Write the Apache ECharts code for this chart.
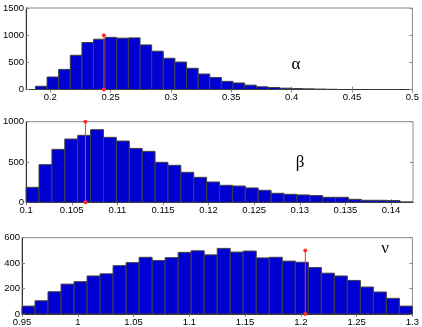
<!DOCTYPE html>
<html>
<head>
<meta charset="utf-8">
<script src="https://cdn.jsdelivr.net/npm/echarts@6/dist/echarts.min.js"></script>
<style>
  html, body { margin: 0; padding: 0; background: #fff; }
  #chart { width: 422px; height: 327px; }
</style>
</head>
<body>
<div id="chart"></div>
<script>
// alpha
const alphaStart = 0.1877, alphaWidth = 0.00963;
const alphaCounts = [60, 230, 370, 630, 865, 925, 960, 945, 950, 820, 705, 575, 505, 390, 285,
                     222, 150, 120, 80, 50, 37, 25, 18, 12, 8, 4];
const alphaMark = 0.2444;
const alphaTicks = [0.2, 0.25, 0.3, 0.35, 0.4, 0.45, 0.5];

// beta
const betaStart = 0.1, betaWidth = 0.001413;
const betaCounts = [186, 467, 657, 785, 831, 901, 806, 760, 669, 632, 496, 459, 372, 310, 252,
                    211, 202, 178, 149, 112, 99, 91, 83, 62, 62, 37, 25, 25, 21, 4];
const betaMark = 0.1065;
const betaTicks = [0.1, 0.105, 0.11, 0.115, 0.12, 0.125, 0.13, 0.135, 0.14];

// nu
const nuStart = 0.95, nuWidth = 0.011667;
const nuCounts = [62, 104, 175, 235, 254, 299, 316, 380, 404, 446, 421, 443, 485, 497, 465,
                  516, 487, 495, 441, 446, 416, 407, 365, 321, 299, 264, 212, 173, 123, 62];
const nuMark = 1.204;
const nuTicks = [0.95, 1, 1.05, 1.1, 1.15, 1.2, 1.25, 1.3];

const panels = [
  { start: alphaStart, width: alphaWidth, counts: alphaCounts, mark: alphaMark, markTop: 1000,
    ticks: alphaTicks, xmin: 0.18, xmax: 0.5, ymax: 1500, yint: 500, top: 8, h: 81.5,
    label: 'α', lx: 296, ly: 65 },
  { start: betaStart, width: betaWidth, counts: betaCounts, mark: betaMark, markTop: 1000,
    ticks: betaTicks, xmin: 0.1, xmax: 0.1424, ymax: 1000, yint: 500, top: 121.7, h: 80.6,
    label: 'β', lx: 300, ly: 163 },
  { start: nuStart, width: nuWidth, counts: nuCounts, mark: nuMark, markTop: 500,
    ticks: nuTicks, xmin: 0.95, xmax: 1.3, ymax: 600, yint: 200, top: 237.7, h: 78,
    label: 'ν', lx: 385, ly: 249 }
];

const FONT = 'Liberation Sans, Arial, sans-serif';
const fmt = v => String(+(+v).toFixed(4));

function renderBar(params, api) {
  const p0 = api.coord([api.value(0), api.value(2)]);
  const p1 = api.coord([api.value(1), 0]);
  return {
    type: 'rect',
    shape: { x: p0[0], y: p0[1], width: p1[0] - p0[0], height: p1[1] - p0[1] },
    style: { fill: '#0000d2', stroke: '#404040', lineWidth: 1 }
  };
}

let grid = [], xAxis = [], yAxis = [], series = [], graphic = [];
panels.forEach((p, i) => {
  grid.push({ left: 22, top: p.top, width: 391, height: p.h, show: true,
              borderColor: '#8a8a8a', borderWidth: 1, backgroundColor: '#fff' });
  // bottom and top x axes
  xAxis.push({
    type: 'value', gridIndex: i, min: p.xmin, max: p.xmax,
    axisLine: { show: true, onZero: false, lineStyle: { color: '#333', width: 1 } },
    axisTick: { show: true, inside: true, length: 3, customValues: p.ticks, lineStyle: { color: '#888' } },
    axisLabel: { customValues: p.ticks, formatter: fmt, color: '#000', fontSize: 9.5,
                 fontFamily: FONT, margin: 3, showMinLabel: true, showMaxLabel: true },
    splitLine: { show: false }
  });
  xAxis.push({
    type: 'value', gridIndex: i, position: 'top', min: p.xmin, max: p.xmax,
    axisLine: { show: false },
    axisTick: { show: true, inside: true, length: 3, customValues: p.ticks, lineStyle: { color: '#888' } },
    axisLabel: { show: false }, splitLine: { show: false }
  });
  yAxis.push({
    type: 'value', gridIndex: i, min: 0, max: p.ymax, interval: p.yint,
    axisLine: { show: true, lineStyle: { color: '#333', width: 1 } },
    axisTick: { show: true, inside: true, length: 3, lineStyle: { color: '#888' } },
    axisLabel: { color: '#000', fontSize: 9.5, fontFamily: FONT, margin: 2, formatter: fmt },
    splitLine: { show: false }
  });
  yAxis.push({
    type: 'value', gridIndex: i, position: 'right', min: 0, max: p.ymax, interval: p.yint,
    axisLine: { show: false },
    axisTick: { show: true, inside: true, length: 3, lineStyle: { color: '#888' } },
    axisLabel: { show: false }, splitLine: { show: false }
  });
  const bins = p.counts.map((c, k) => [p.start + k * p.width, p.start + (k + 1) * p.width, c]);
  series.push({
    type: 'custom', xAxisIndex: 2 * i, yAxisIndex: 2 * i,
    renderItem: renderBar, data: bins, encode: { x: [0, 1], y: 2 }, silent: true, z: 2
  });
  series.push({
    type: 'line', xAxisIndex: 2 * i, yAxisIndex: 2 * i,
    data: [[p.mark, 0], [p.mark, p.markTop]],
    lineStyle: { color: '#ff3030', width: 1 },
    itemStyle: { color: '#ff3030' },
    symbol: 'circle', symbolSize: 4, showSymbol: true, silent: true, z: 5,
    animation: false
  });
  graphic.push({
    type: 'text', x: p.lx, y: p.ly, z: 10,
    style: { text: p.label, font: '17px "Liberation Serif", serif', fill: '#000',
             textAlign: 'center', textVerticalAlign: 'middle' }
  });
});

const chart = echarts.init(document.getElementById('chart'), null, { renderer: 'canvas' });
chart.setOption({
  animation: false,
  grid, xAxis, yAxis, series, graphic
});
</script>
</body>
</html>
